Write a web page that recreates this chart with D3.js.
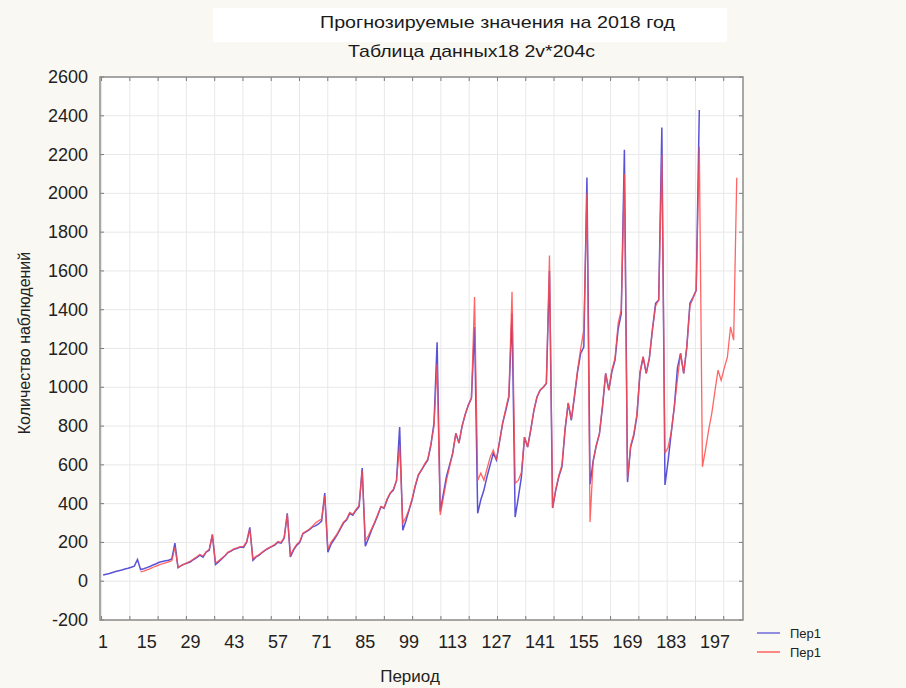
<!DOCTYPE html>
<html>
<head>
<meta charset="utf-8">
<script src="https://cdn.jsdelivr.net/npm/d3@7/dist/d3.min.js"></script>
<style>
  html, body { margin: 0; padding: 0; background: #faf8f2; }
  svg { display: block; font-family: "Liberation Sans", Arial, sans-serif; }
</style>
</head>
<body>
<svg id="chart" width="906" height="688"></svg>
<script>
// Observed series (periods 1..192)
const observed = [
  32, 36, 40, 45, 50, 54, 58, 63, 67, 72, 78, 112,
  60, 64, 70, 76, 84, 90, 98, 102, 106, 108, 115, 196,
  70, 80, 88, 94, 100, 112, 122, 134, 124, 150, 160, 240,
  86, 100, 115, 130, 148, 155, 165, 170, 176, 174, 201, 278,
  108, 125, 135, 148, 160, 170, 178, 186, 201, 196, 222, 350,
  125, 160, 185, 200, 245, 255, 265, 279, 285, 295, 310, 455,
  150, 190, 215, 240, 270, 300, 315, 350, 340, 365, 384, 583,
  181, 220, 263, 300, 340, 384, 376, 420, 454, 470, 520, 795,
  263, 310, 366, 420, 490, 547, 573, 600, 624, 700, 815, 1232,
  360, 450, 540, 600, 660, 763, 712, 800, 860, 908, 944, 1311,
  350, 420, 470, 540, 600, 660, 625, 720, 815, 880, 950, 1382,
  331, 430, 537, 743, 692, 780, 880, 950, 985, 1000, 1020, 1600,
  377, 470, 540, 590, 780, 918, 830, 950, 1080, 1176, 1207, 2082,
  500, 620, 700, 760, 900, 1072, 985, 1080, 1140, 1300, 1380, 2225,
  511, 692, 750, 850, 1072, 1155, 1072, 1150, 1300, 1433, 1450, 2340,
  496, 620, 763, 900, 1100, 1175, 1072, 1207, 1433, 1464, 1500, 2430
];
const observedStart = 1;

// Forecast series (periods 13..204)
const forecast = [
  48, 52, 58, 64, 72, 78, 84, 90, 95, 100, 105, 175,
  72, 80, 88, 96, 104, 115, 126, 138, 130, 150, 165, 242,
  95, 105, 118, 132, 150, 158, 168, 172, 178, 180, 205, 268,
  115, 128, 138, 150, 162, 172, 180, 190, 205, 200, 225, 345,
  135, 165, 190, 205, 248, 258, 268, 282, 300, 311, 320, 440,
  165, 200, 222, 245, 275, 305, 320, 355, 345, 370, 390, 570,
  210, 235, 270, 305, 345, 385, 380, 425, 455, 475, 520, 700,
  300, 330, 370, 425, 495, 550, 575, 605, 630, 705, 800, 1120,
  342, 430, 520, 590, 660, 763, 712, 800, 860, 908, 944, 1466,
  520, 557, 520, 580, 640, 676, 625, 720, 815, 890, 960, 1492,
  505, 520, 560, 743, 692, 780, 880, 950, 985, 1000, 1020, 1680,
  380, 470, 545, 600, 790, 920, 835, 960, 1090, 1200, 1295, 2000,
  305, 620, 700, 760, 910, 1072, 985, 1090, 1150, 1330, 1400, 2100,
  530, 700, 760, 860, 1080, 1160, 1072, 1150, 1300, 1420, 1450, 2200,
  660, 690, 770, 900, 1040, 1175, 1072, 1210, 1420, 1460, 1500, 2240,
  590, 680, 780, 866, 980, 1088, 1036, 1100, 1155, 1311, 1243, 2080
];
const forecastStart = 13;

const xTickLabels = [1, 15, 29, 43, 57, 71, 85, 99, 113, 127, 141, 155, 169, 183, 197];
const yTickValues = [-200, 0, 200, 400, 600, 800, 1000, 1200, 1400, 1600, 1800, 2000, 2200, 2400, 2600];
const seriesNames = ["Пер1", "Пер1"];
const seriesColors = ["#5a52d6", "#ff4a4a"];
const titleText = "Прогнозируемые значения  на 2018 год";
const subtitleText = "Таблица данных18 2v*204c";
const xTitle = "Период";
const yTitle = "Количество наблюдений";

const svg = d3.select("#chart");
const plot = { left: 100, right: 743, top: 77, bottom: 620 };

const x = d3.scaleLinear().domain([0, 206]).range([plot.left, plot.right]);
const y = d3.scaleLinear().domain([-200, 2600]).range([plot.bottom, plot.top]);

// title panel
svg.append("rect").attr("x", 213).attr("y", 8).attr("width", 514).attr("height", 34).attr("fill", "#ffffff");
svg.append("text").attr("x", 320).attr("y", 28)
  .attr("font-size", 17).attr("fill", "#1a1a1a")
  .attr("textLength", 355).attr("lengthAdjust", "spacingAndGlyphs").text(titleText);
svg.append("text").attr("x", 348).attr("y", 57)
  .attr("font-size", 17).attr("fill", "#1a1a1a")
  .attr("textLength", 247).attr("lengthAdjust", "spacingAndGlyphs").text(subtitleText);

// plot background
svg.append("rect").attr("x", plot.left).attr("y", plot.top)
  .attr("width", plot.right - plot.left).attr("height", plot.bottom - plot.top)
  .attr("fill", "#ffffff");

// vertical grid lines (independent of label positions)
const gridX = d3.range(0, 23).map(k => 0.5 + k * 9.06);
svg.append("g").selectAll("line").data(gridX).join("line")
  .attr("x1", d => x(d)).attr("x2", d => x(d))
  .attr("y1", plot.top).attr("y2", plot.bottom)
  .attr("stroke", "#e8e8e8").attr("stroke-width", 1);
svg.append("g").selectAll("line").data(yTickValues).join("line")
  .attr("x1", plot.left).attr("x2", plot.right)
  .attr("y1", d => y(d)).attr("y2", d => y(d))
  .attr("stroke", "#e8e8e8").attr("stroke-width", 1);

// inward tick marks on all sides
const tickG = svg.append("g").attr("stroke", "#7a7a7a").attr("stroke-width", 1);
gridX.forEach(d => {
  tickG.append("line").attr("x1", x(d)).attr("x2", x(d)).attr("y1", plot.bottom).attr("y2", plot.bottom - 4);
  tickG.append("line").attr("x1", x(d)).attr("x2", x(d)).attr("y1", plot.top).attr("y2", plot.top + 4);
});
yTickValues.forEach(d => {
  tickG.append("line").attr("x1", plot.left).attr("x2", plot.left + 4).attr("y1", y(d)).attr("y2", y(d));
  tickG.append("line").attr("x1", plot.right).attr("x2", plot.right - 4).attr("y1", y(d)).attr("y2", y(d));
});

// series
const line = d3.line().x(d => x(d.p)).y(d => y(d.v));
const obsPts = observed.map((v, i) => ({ p: observedStart + i, v }));
const fcPts = forecast.map((v, i) => ({ p: forecastStart + i, v }));
svg.append("path").datum(obsPts).attr("d", line)
  .attr("fill", "none").attr("stroke", seriesColors[0]).attr("stroke-width", 1.5);
svg.append("path").datum(fcPts).attr("d", line)
  .attr("fill", "none").attr("stroke", seriesColors[1]).attr("stroke-width", 1.3).attr("stroke-opacity", 0.85);

// frame
svg.append("rect").attr("x", plot.left).attr("y", plot.top)
  .attr("width", plot.right - plot.left).attr("height", plot.bottom - plot.top)
  .attr("fill", "none").attr("stroke", "#8c8c8c").attr("stroke-width", 1.5);

// axis labels
svg.append("g").selectAll("text").data(yTickValues).join("text")
  .attr("x", 88).attr("y", d => y(d) + 6).attr("text-anchor", "end")
  .attr("font-size", 18).attr("fill", "#222").text(d => d);
svg.append("g").selectAll("text").data(xTickLabels).join("text")
  .attr("x", d => x(d)).attr("y", 648).attr("text-anchor", "middle")
  .attr("font-size", 18).attr("fill", "#222").text(d => d);

svg.append("text").attr("x", 410).attr("y", 682).attr("text-anchor", "middle")
  .attr("font-size", 17).attr("fill", "#222").text(xTitle);
svg.append("text").attr("transform", "translate(30,343) rotate(-90)").attr("text-anchor", "middle")
  .attr("font-size", 16).attr("fill", "#222").text(yTitle);

// legend
const leg = svg.append("g");
seriesNames.forEach((name, i) => {
  const ly = 633 + i * 19;
  leg.append("line").attr("x1", 757).attr("x2", 780).attr("y1", ly).attr("y2", ly)
    .attr("stroke", seriesColors[i]).attr("stroke-width", 1.3);
  leg.append("text").attr("x", 790).attr("y", ly + 5).attr("font-size", 13)
    .attr("fill", "#222").text(name);
});
</script>
</body>
</html>
